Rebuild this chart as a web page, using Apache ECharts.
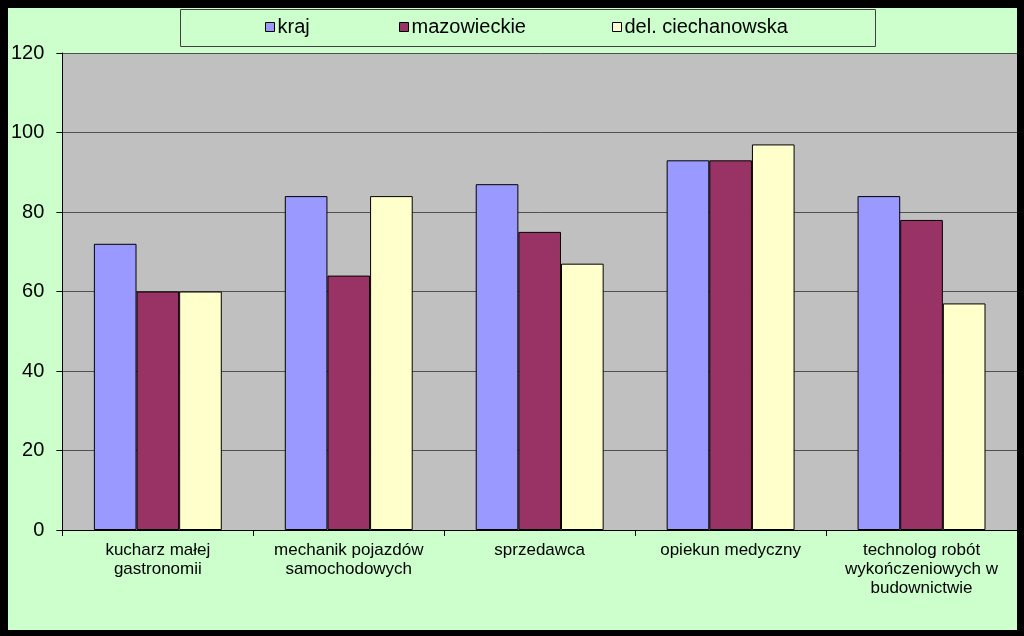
<!DOCTYPE html>
<html>
<head>
<meta charset="utf-8">
<script src="https://cdn.jsdelivr.net/npm/echarts@6/dist/echarts.min.js"></script>
<style>
html,body{margin:0;padding:0;background:#000;width:1024px;height:636px;overflow:hidden;}
#c{position:absolute;left:8px;top:8px;width:1009px;height:622px;background:#CCFFCC;}
</style>
</head>
<body>
<div id="c"></div>
<script>
const categories = ["kucharz małej\ngastronomii", "mechanik pojazdów\nsamochodowych", "sprzedawca", "opiekun medyczny", "technolog robót\nwykończeniowych w\nbudownictwie"];
const seriesNames = ["kraj", "mazowieckie", "del. ciechanowska"];
const kraj = [72, 84, 87, 93, 84];
const mazowieckie = [60, 64, 75, 93, 78];
const ciechanowska = [60, 84, 67, 97, 57];
const yTicks = [0, 20, 40, 60, 80, 100, 120];

const colors = ["#9999FF", "#993366", "#FFFFCC"];
const font = "'Liberation Sans', Arial, sans-serif";
const chart = echarts.init(document.getElementById('c'), null, {renderer: 'canvas'});
const legendLefts = [257, 391, 604];
chart.setOption({
  animation: false,
  backgroundColor: '#CCFFCC',
  graphic: [{
    type: 'rect', left: 172, top: 1, z: -1,
    shape: {width: 695, height: 37},
    style: {fill: '#CCFFCC', stroke: '#404040', lineWidth: 1}
  }],
  legend: seriesNames.map((n, i) => ({
    data: [n], left: legendLefts[i], top: 9, padding: 0,
    itemWidth: 9, itemHeight: 9, icon: 'rect',
    itemStyle: {borderColor: '#000', borderWidth: 1},
    textStyle: {fontFamily: font, fontSize: 20, color: '#000', padding: [0, 0, 0, -2]}
  })),
  grid: {left: 53, top: 45, right: 0, bottom: 100, show: true, backgroundColor: '#C0C0C0', borderWidth: 0},
  xAxis: {
    type: 'category', data: categories,
    axisLine: {lineStyle: {color: '#000', width: 1}},
    axisTick: {show: true, length: 6, lineStyle: {color: '#000'}},
    axisLabel: {interval: 0, fontFamily: font, fontSize: 17, color: '#000', lineHeight: 19, margin: 11}
  },
  yAxis: {
    type: 'value', min: yTicks[0], max: yTicks[yTicks.length - 1], interval: 20,
    axisLine: {show: true, lineStyle: {color: '#000', width: 1}},
    axisTick: {show: true, length: 6, lineStyle: {color: '#000'}},
    axisLabel: {fontFamily: font, fontSize: 20, color: '#000', margin: 18},
    splitLine: {show: true, lineStyle: {color: '#505050', width: 1}}
  },
  series: [kraj, mazowieckie, ciechanowska].map((d, i) => ({
    name: seriesNames[i], type: 'bar', data: d,
    barGap: 0, barCategoryGap: '33%',
    itemStyle: {color: colors[i], borderColor: '#000', borderWidth: 1}
  }))
});
</script>
</body>
</html>
